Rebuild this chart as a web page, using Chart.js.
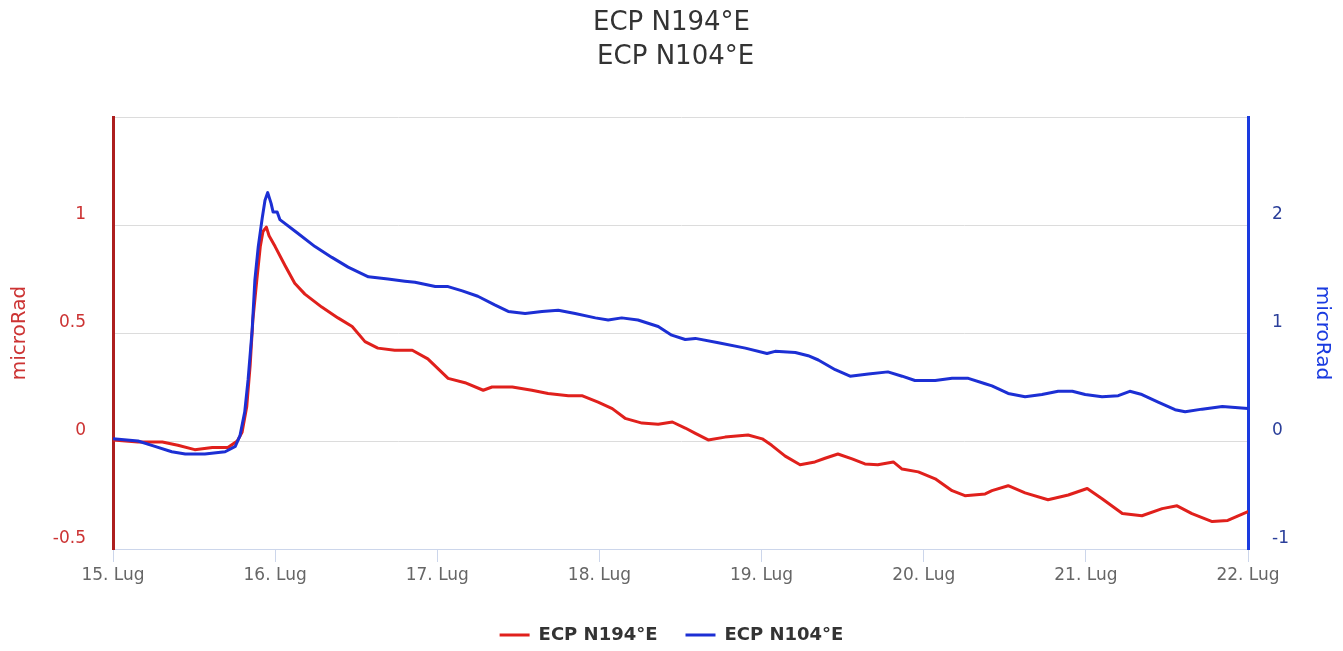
<!DOCTYPE html>
<html>
<head>
<meta charset="utf-8">
<title>ECP N194°E / ECP N104°E</title>
<script src="https://cdn.jsdelivr.net/npm/chart.js@4.4.1/dist/chart.umd.min.js"></script>
<style>
  html, body { margin: 0; padding: 0; background: #fff; }
  #chart { display: block; }
</style>
</head>
<body>
<canvas id="chart" width="1343" height="651"></canvas>
<script>
// Dati: ore dal 15 Lug 00:00, valori in microRad
const DAY_LABELS = ["15. Lug", "16. Lug", "17. Lug", "18. Lug", "19. Lug", "20. Lug", "21. Lug", "22. Lug"];

const RED_HOURS = [0, 3.7, 7.3, 9.6, 12.1, 14.7, 17.0, 18.4, 19.1, 19.8,
  20.3, 20.7, 21.3, 21.8, 22.2, 22.7, 23.1, 24.0, 25.5, 26.9,
  28.4, 30.9, 33.3, 35.4, 37.3, 39.2, 41.7, 44.3, 46.6, 49.6,
  52.1, 54.8, 56.1, 59.1, 62.0, 64.4, 67.4, 69.4, 71.8, 73.9,
  75.8, 78.3, 80.7, 82.8, 84.7, 86.2, 88.1, 90.6, 94.0, 96.1,
  97.5, 99.5, 101.7, 103.9, 105.4, 107.3, 109.4, 111.3, 113.2, 115.5,
  116.8, 119.2, 121.7, 124.2, 126.1, 129.1, 130.1, 132.5, 135.0, 138.4,
  141.4, 144.2, 146.4, 149.4, 152.3, 155.3, 157.5, 159.7, 162.7, 165.0, 168];
const RED_VALUES = [0.005, -0.005, -0.005, -0.02, -0.04, -0.03, -0.03, 0, 0.04, 0.16,
  0.35, 0.56, 0.75, 0.9, 0.97, 0.99, 0.95, 0.9, 0.81, 0.73,
  0.68, 0.62, 0.57, 0.53, 0.46, 0.43, 0.42, 0.42, 0.38, 0.29,
  0.27, 0.235, 0.25, 0.25, 0.235, 0.22, 0.21, 0.21, 0.18, 0.15,
  0.105, 0.083, 0.078, 0.088, 0.06, 0.035, 0.005, 0.018, 0.028, 0.01,
  -0.02, -0.07, -0.11, -0.097, -0.08, -0.06, -0.083, -0.106, -0.11, -0.097,
  -0.13, -0.143, -0.175, -0.23, -0.253, -0.245, -0.23, -0.207, -0.24, -0.272,
  -0.25, -0.22, -0.267, -0.336, -0.346, -0.313, -0.3, -0.336, -0.373, -0.368, -0.327];

const BLUE_HOURS = [0, 3.7, 6.2, 8.7, 10.7, 13.6, 16.6, 18.1, 18.8, 19.5,
  20.0, 20.6, 21.0, 21.5, 22.1, 22.5, 22.9, 23.4, 23.7, 24.3,
  24.7, 27.2, 29.9, 32.4, 34.8, 37.8, 40.7, 43.2, 44.7, 47.7,
  49.6, 51.7, 54.0, 56.5, 58.5, 61.0, 63.5, 65.9, 68.4, 71.4,
  73.3, 75.3, 77.7, 80.7, 82.7, 84.7, 86.2, 89.6, 93.6, 96.8,
  98.0, 101.0, 102.9, 104.4, 106.9, 109.1, 111.8, 114.7, 116.8, 118.7,
  121.7, 124.2, 126.6, 129.1, 130.1, 132.5, 135.0, 137.5, 139.9, 142.0,
  143.9, 146.4, 148.8, 150.5, 152.3, 154.7, 157.2, 158.7, 161.2, 164.2, 166.1, 168];
const BLUE_VALUES = [0.02, 0, -0.05, -0.1, -0.12, -0.12, -0.1, -0.05, 0.05, 0.27,
  0.57, 1.03, 1.49, 1.8, 2.07, 2.23, 2.3, 2.2, 2.12, 2.12,
  2.05, 1.93, 1.8, 1.7, 1.61, 1.52, 1.5, 1.48, 1.47, 1.43,
  1.43, 1.39, 1.34, 1.26, 1.2, 1.18, 1.2, 1.21, 1.18, 1.14,
  1.12, 1.14, 1.12, 1.06, 0.98, 0.94, 0.95, 0.91, 0.86, 0.81,
  0.83, 0.82, 0.79, 0.75, 0.66, 0.6, 0.62, 0.64, 0.6, 0.56,
  0.56, 0.58, 0.58, 0.53, 0.51, 0.44, 0.41, 0.43, 0.46, 0.46,
  0.43, 0.41, 0.42, 0.46, 0.43, 0.36, 0.29, 0.27, 0.295, 0.32, 0.31, 0.3];

const COLORS = {
  red: "#e0201c",
  redAxis: "#ad1f1f",
  redText: "#cc3333",
  blue: "#1c2fd4",
  blueAxis: "#1a3be0",
  blueText: "#2b3f9a",
  grid: "#dcdcdc",
  xAxis: "#ccd6eb",
  label: "#666666",
  title: "#333333",
};

const FONT = '"DejaVu Sans", sans-serif';

function toPoints(hours, values) {
  return hours.map((h, i) => ({ x: h, y: values[i] }));
}

new Chart(document.getElementById("chart").getContext("2d"), {
  type: "line",
  data: {
    datasets: [{
      label: "ECP N194°E",
      data: toPoints(RED_HOURS, RED_VALUES),
      yAxisID: "yLeft",
      borderColor: COLORS.red,
      backgroundColor: COLORS.red,
      borderWidth: 3,
      pointRadius: 0,
      order: 0,
    }, {
      label: "ECP N104°E",
      data: toPoints(BLUE_HOURS, BLUE_VALUES),
      yAxisID: "yRight",
      borderColor: COLORS.blue,
      backgroundColor: COLORS.blue,
      borderWidth: 3,
      pointRadius: 0,
      order: -1, // blu disegnato sopra
    }],
  },
  options: {
    responsive: false,
    animation: false,
    devicePixelRatio: 1,
    layout: { padding: { left: 0, right: 0, top: 0, bottom: -3 } },
    elements: { line: { borderJoinStyle: "round", borderCapStyle: "round", tension: 0 } },
    plugins: {
      title: {
        display: true,
        text: ["ECP N194°E", " ECP N104°E"],
        color: COLORS.title,
        font: { family: FONT, size: 26, weight: "normal", lineHeight: 34 / 26 },
        padding: { top: 6, bottom: 43 },
      },
      legend: {
        position: "bottom",
        labels: {
          font: { family: FONT, size: 18, weight: "bold" },
          color: COLORS.title,
          boxWidth: 30,
          boxHeight: 3,
          padding: 28,
          sort: (a, b) => a.datasetIndex - b.datasetIndex,
          generateLabels: (chart) =>
            Chart.defaults.plugins.legend.labels.generateLabels(chart).map((l) => ({ ...l, lineWidth: 0 })),
        },
      },
      tooltip: { enabled: false },
    },
    scales: {
      x: {
        type: "linear",
        min: 0,
        max: 168,
        afterFit: (s) => { s.height = 49; },
        ticks: {
          stepSize: 24,
          autoSkip: false,
          maxRotation: 0,
          color: COLORS.label,
          font: { family: FONT, size: 17 },
          padding: 3,
          callback: (v) => DAY_LABELS[Math.round(v / 24)],
        },
        grid: { drawOnChartArea: false, drawTicks: true, tickLength: 13, color: COLORS.xAxis },
        border: { display: true, color: COLORS.xAxis, width: 1 },
      },
      yLeft: {
        type: "linear",
        position: "left",
        min: -0.5,
        max: 1.5,
        afterFit: (s) => { s.width = 113; },
        ticks: {
          stepSize: 0.5,
          color: COLORS.redText,
          font: { family: FONT, size: 17 },
          padding: 27,
          labelOffset: -10,
          callback: (v) => (v === 1.5 ? "" : String(v)),
        },
        grid: { color: COLORS.grid, drawTicks: false },
        border: { display: true, color: COLORS.redAxis, width: 3 },
        title: {
          display: true,
          text: "microRad",
          color: COLORS.redText,
          font: { family: FONT, size: 20 },
          padding: { top: 8, bottom: 0 },
        },
      },
      yRight: {
        type: "linear",
        position: "right",
        min: -1,
        max: 3,
        afterFit: (s) => { s.width = 95; },
        ticks: {
          stepSize: 1,
          color: COLORS.blueText,
          font: { family: FONT, size: 17 },
          padding: 24,
          labelOffset: -10,
          callback: (v) => (v === 3 ? "" : String(v)),
        },
        grid: { display: false, drawTicks: false },
        border: { display: true, color: COLORS.blueAxis, width: 3 },
        title: {
          display: true,
          text: "microRad",
          color: COLORS.blueAxis,
          font: { family: FONT, size: 20 },
          padding: { top: 9, bottom: 0 },
        },
      },
    },
  },
});
</script>
</body>
</html>
